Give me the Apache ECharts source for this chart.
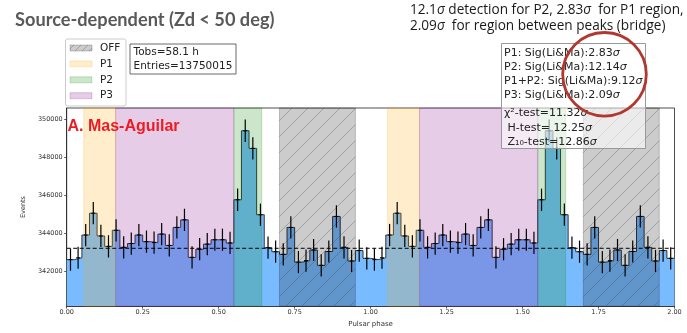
<!DOCTYPE html>
<html>
<head>
<meta charset="utf-8">
<script src="https://cdn.jsdelivr.net/npm/echarts@6/dist/echarts.min.js"></script>
<style>
  html, body { margin: 0; padding: 0; background: #fff; }
  #chart { width: 687px; height: 333px; }
</style>
</head>
<body>
<div id="chart"></div>
<script>
// Phaseogram: 40 bins per rotation, shown over two cycles
const binWidth = 0.025;
const cycles = 2;
const countsPerBin = [
  342600, 342700, 343900, 345050, 343850, 343300, 344150, 343250, 343450, 343900,
  343550, 343500, 343950, 343350, 344300, 344700, 342720, 343150, 343420, 343650,
  343650, 343480, 345760, 349400, 348470, 344970, 343230, 343020, 342880, 344300,
  342470, 342550, 343110, 342300, 343030, 344880, 343250, 342530, 343080, 342670
];
const offBaseline = 343200;

// Phase regions (one rotation)
const regionNames = ['OFF', 'P1', 'P2', 'P3'];
const regionLo = [0.70, 0.056, 0.550, 0.161];
const regionHi = [0.95, 0.161, 0.642, 0.550];

// Axis ticks
const xTicks = [0, 0.25, 0.5, 0.75, 1.0, 1.25, 1.5, 1.75, 2.0];
const yTicks = [342000, 344000, 346000, 348000, 350000];
const yRange = [340150, 350600];

// Text blocks
const legendLabels = ['OFF', 'P1', 'P2', 'P3'];
const infoLines = ['Tobs=58.1 h', 'Entries=13750015'];
const statLines = [
  'P1: Sig(Li&Ma):2.83{s|σ}',
  'P2: Sig(Li&Ma):12.14{s|σ}',
  'P1+P2: Sig(Li&Ma):9.12{s|σ}',
  'P3: Sig(Li&Ma):2.09{s|σ}',
  'χ²-test=11.32{s|σ}',
  ' H-test= 12.25{s|σ}',
  ' Z₁₀-test=12.86{s|σ}'
];
const noteLines = [
  '12.1{s|σ} detection for P2, 2.83{s|σ}  for P1 region,',
  '2.09{s|σ}  for region between peaks (bridge)'
];

const regionFill = {
  OFF: 'rgba(0,0,0,0.2)',
  P1: 'rgba(255,165,0,0.2)',
  P2: 'rgba(0,128,0,0.2)',
  P3: 'rgba(128,0,128,0.2)'
};
const histFill = 'rgb(120,188,255)';
const hatchStroke = 'rgba(70,70,70,0.4)';

// ---- build series data ----
const allCounts = [];
for (let c = 0; c < cycles; c++) allCounts.push(...countsPerBin);

const stepData = allCounts.map((v, i) => [i * binWidth, v]);
stepData.push([allCounts.length * binWidth, allCounts[allCounts.length - 1]]);

const errData = allCounts.map((v, i) => [(i + 0.5) * binWidth, v, Math.sqrt(v)]);

const regionData = [];
const regionKind = [];
for (let c = 0; c < cycles; c++) {
  regionNames.forEach((name, k) => {
    regionData.push([regionLo[k] + c, regionHi[k] + c]);
    regionKind.push(name);
  });
}

// "/" hatch lines clipped to a rectangle
function hatchLines(x0, y0, x1, y1, spacing, stroke, z) {
  const out = [];
  const cStart = Math.ceil((x0 + y0) / spacing) * spacing;
  for (let c = cStart; c <= x1 + y1; c += spacing) {
    const xa = Math.max(x0, c - y1);
    const xb = Math.min(x1, c - y0);
    if (xb <= xa) continue;
    out.push({
      type: 'line',
      z: z,
      shape: { x1: xa, y1: c - xa, x2: xb, y2: c - xb },
      style: { stroke: stroke, lineWidth: 0.8 },
      silent: true
    });
  }
  return out;
}

const chart = echarts.init(document.getElementById('chart'), null, { renderer: 'canvas' });

const axisFont = { fontFamily: 'DejaVu Sans', fontSize: 6.5, color: '#333' };

// ---- decorations ----
const graphics = [];
graphics.push({
  type: 'text', z: 100,
  style: { x: 15, y: 20, text: 'Source-dependent (Zd < 50 deg)', font: 'bold 18.2px "Lato"', fill: '#595959', verticalAlign: 'middle' }
});
noteLines.forEach((t, i) => {
  graphics.push({
    type: 'text', z: 100,
    style: { x: 410, y: 10.5 + i * 16, text: t, font: '13.6px "Open Sans"', fill: '#1a1a1a', verticalAlign: 'middle',
      rich: { s: { fontStyle: 'italic', fontFamily: 'Open Sans', fontSize: 13.6, fill: '#1a1a1a' } } }
  });
});

// legend
graphics.push({
  type: 'rect', z: 100,
  shape: { x: 65.5, y: 39, width: 60.5, height: 67, r: 2 },
  style: { fill: 'rgba(255,255,255,0.85)', stroke: '#cccccc', lineWidth: 1 }
});
legendLabels.forEach((name, i) => {
  const cy = 48 + i * 15.9;
  graphics.push({
    type: 'rect', z: 101,
    shape: { x: 70, y: cy - 3, width: 22, height: 6 },
    style: { fill: regionFill[name], stroke: regionFill[name], lineWidth: 1 }
  });
  if (name === 'OFF') {
    hatchLines(70, cy - 3, 92, cy + 3, 7, hatchStroke, 102).forEach(g => graphics.push(g));
  }
  graphics.push({
    type: 'text', z: 101,
    style: { x: 100, y: cy, text: name, font: '10.5px "DejaVu Sans"', fill: '#222', verticalAlign: 'middle' }
  });
});

// observation info
graphics.push({
  type: 'rect', z: 100,
  shape: { x: 130, y: 44, width: 106, height: 30 },
  style: { fill: '#fff', stroke: '#444', lineWidth: 0.8 }
});
infoLines.forEach((t, i) => {
  graphics.push({
    type: 'text', z: 101,
    style: { x: 133.5, y: 52.5 + i * 13.5, text: t, font: '10.5px "DejaVu Sans"', fill: '#222', verticalAlign: 'middle' }
  });
});

// significance box
graphics.push({
  type: 'rect', z: 100,
  shape: { x: 501.5, y: 43.5, width: 144, height: 105 },
  style: { fill: 'rgba(255,255,255,0.6)', stroke: '#999', lineWidth: 1 }
});
const statY = [52.7, 66.9, 81.1, 95.6, 113.3, 127.7, 141.7];
statLines.forEach((t, i) => {
  graphics.push({
    type: 'text', z: 101,
    style: { x: 504, y: statY[i], text: t, font: '11px "DejaVu Sans"', fill: '#222', verticalAlign: 'middle',
      rich: { s: { fontStyle: 'italic', fontFamily: 'DejaVu Sans', fontSize: 11, fill: '#222' } } }
  });
});

graphics.push({
  type: 'circle', z: 110,
  shape: { cx: 604.5, cy: 74.3, r: 41.8 },
  style: { fill: 'none', stroke: '#b0382e', lineWidth: 2.8 }
});

graphics.push({
  type: 'text', z: 100,
  style: { x: 67.5, y: 126.5, text: 'A. Mas-Aguilar', font: 'bold 16px "Liberation Sans"', fill: '#ec1c24', verticalAlign: 'middle' }
});

const option = {
  animation: false,
  backgroundColor: '#fff',
  grid: { left: 66.7, right: 12.5, top: 108, bottom: 15, show: true, borderColor: '#222', borderWidth: 0.8, backgroundColor: 'transparent' },
  xAxis: {
    type: 'value', min: 0, max: 2, interval: 0.25,
    name: 'Pulsar phase', nameLocation: 'middle', nameGap: 11,
    nameTextStyle: { fontFamily: 'DejaVu Sans', fontSize: 7, color: '#333' },
    axisLine: { show: true, onZero: false, lineStyle: { color: '#222', width: 0.8 } },
    axisTick: { show: true, length: 2.5, lineStyle: { color: '#333', width: 0.8 } },
    axisLabel: Object.assign({ margin: 3, formatter: v => v.toFixed(2) }, axisFont),
    splitLine: { show: false }
  },
  yAxis: {
    type: 'value', min: yRange[0], max: yRange[1],
    name: 'Events', nameLocation: 'middle', nameGap: 38,
    nameTextStyle: { fontFamily: 'DejaVu Sans', fontSize: 6.5, color: '#333' },
    axisLine: { show: true, lineStyle: { color: '#222', width: 0.8 } },
    axisTick: { show: true, length: 2.5, customValues: yTicks, lineStyle: { color: '#333', width: 0.8 } },
    axisLabel: Object.assign({ margin: 4, customValues: yTicks, formatter: v => String(v) }, axisFont),
    splitLine: { show: false }
  },
  graphic: graphics,
  series: [
    {
      name: 'hist', type: 'line', step: 'end', data: stepData, z: 2,
      symbol: 'none', silent: true,
      lineStyle: { color: '#222', width: 0.9 },
      areaStyle: { color: histFill, opacity: 1, origin: 'start' }
    },
    {
      name: 'regions', type: 'custom', z: 3, silent: true,
      data: regionData,
      encode: { x: [0, 1] },
      renderItem: function (params, api) {
        const cs = params.coordSys;
        const kind = regionKind[params.dataIndex];
        const xa = api.coord([api.value(0), yRange[0]])[0];
        const xb = api.coord([api.value(1), yRange[0]])[0];
        const y0 = cs.y, y1 = cs.y + cs.height;
        const children = [{
          type: 'rect',
          shape: { x: xa, y: y0, width: xb - xa, height: y1 - y0 },
          style: { fill: regionFill[kind], stroke: regionFill[kind], lineWidth: 1 }
        }];
        if (kind === 'OFF') {
          hatchLines(xa, y0, xb, y1, 16, hatchStroke).forEach(l => children.push(l));
        }
        return { type: 'group', children: children };
      }
    },
    {
      name: 'offLevel', type: 'line', z: 4, silent: true, symbol: 'none',
      data: [[0, offBaseline], [2, offBaseline]],
      lineStyle: { color: '#000', width: 1, type: [4, 2.5] }
    },
    {
      name: 'errors', type: 'custom', z: 5, silent: true,
      data: errData,
      encode: { x: 0, y: 1 },
      renderItem: function (params, api) {
        const c = api.value(0), v = api.value(1), e = api.value(2);
        const top = api.coord([c, v + e]);
        const bot = api.coord([c, v - e]);
        const mid = api.coord([c, v]);
        return {
          type: 'group',
          children: [
            { type: 'line', shape: { x1: top[0], y1: top[1], x2: bot[0], y2: bot[1] }, style: { stroke: '#000', lineWidth: 1.2 } },
            { type: 'line', shape: { x1: mid[0] - 2, y1: mid[1], x2: mid[0] + 2, y2: mid[1] }, style: { stroke: '#000', lineWidth: 1 } }
          ]
        };
      }
    }
  ]
};

chart.setOption(option);
</script>
</body>
</html>
